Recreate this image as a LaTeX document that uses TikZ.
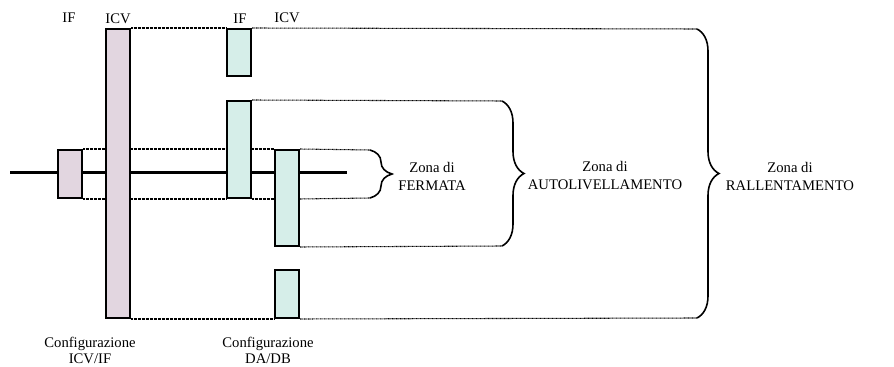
\documentclass[tikz,border=0pt]{standalone}
\usepackage{fontspec}
\setmainfont{Liberation Serif}
\usepackage{xcolor}
\usepackage{tikz}
\usetikzlibrary{positioning, decorations.pathreplacing}
\definecolor{cfgpink}{HTML}{E2D6E0}
\definecolor{cfgteal}{HTML}{D6EEE9}

\begin{document}
\begin{tikzpicture}[x=0.75pt,y=-0.75pt,font=\fontsize{11}{13.5}\selectfont,
  pinkbox/.style={draw=black,line width=1.5pt,fill=cfgpink,inner sep=0pt,minimum width=18pt,minimum height=#1},
  tealbox/.style={draw=black,line width=1.5pt,fill=cfgteal,inner sep=0pt,minimum width=18pt,minimum height=#1},
  zoneline/.style={dash pattern=on 0.6pt off 0.4pt,line width=0.8pt},
  zonebrace/.style={decorate,decoration={brace,amplitude=16.5pt},line width=1.2pt}]
  \useasboundingbox(0,0)rectangle(894,367);
  % binario e limiti delle zone
  \coordinate(trkW)at(10,173);\coordinate(trkE)at(347,173);
  \coordinate(fermTop)at(370,150);\coordinate(fermBot)at(370,198);
  \coordinate(autoTop)at(502,101);\coordinate(autoBot)at(502,246);
  \coordinate(rallTop)at(697,29);\coordinate(rallBot)at(697,318);
  \draw[line width=2.25pt](trkW)--(trkE);
  \path(70,174)node[pinkbox=36pt](ifA){};
  \path(118,173.5)node[pinkbox=216.75pt](icvA){};
  \path(239,52.5)node[tealbox=35.25pt](ifB1){};
  \path(239,149.5)node[tealbox=72.75pt](ifB2){};
  \path(287,198)node[tealbox=72pt](icvB1){};
  \path(287,294)node[tealbox=36pt](icvB2){};
  \draw[zoneline](icvA.north east)--(ifB1.north west);\draw[zoneline](ifB1.north east)--(rallTop);
  \draw[zoneline](ifB2.north east)--(autoTop);
  \draw[zoneline](ifA.north east)--(icvA.west|-ifA.north);\draw[zoneline](icvA.east|-ifA.north)--(ifB2.west|-ifA.north);
  \draw[zoneline](ifB2.east|-ifA.north)--(icvB1.north west);\draw[zoneline](icvB1.north east)--(fermTop);
  \draw[zoneline](ifA.south east)--(icvA.west|-ifA.south);\draw[zoneline](icvA.east|-ifA.south)--(ifB2.south west);
  \draw[zoneline](ifB2.south east)--(icvB1.west|-ifA.south);\draw[zoneline](icvB1.east|-ifA.south)--(fermBot);
  \draw[zoneline](icvB1.south east)--(autoBot);
  \draw[zoneline](icvA.south east)--(icvB2.south west);\draw[zoneline](icvB2.south east)--(rallBot);
  \draw[zonebrace](fermTop)--(fermBot);
  \draw[zonebrace](autoTop)--(autoBot);
  \draw[zonebrace](rallTop)--(rallBot);
  % etichette
  \node(lblIfA)at(69,18){IF};\node(lblIcvA)at(118,19){ICV};
  \node(lblIfB)at(240,19){IF};\node(lblIcvB)at(287,18){ICV};
  \node[align=center](lblFerm)at(432,176){Zona di\\FERMATA};
  \node[align=center](lblAuto)at(605,176){Zona di\\AUTOLIVELLAMENTO};
  \node[align=center](lblRall)at(790,176){Zona di\\RALLENTAMENTO};
  \node[align=center,inner sep=0pt,font=\fontsize{11}{12}\selectfont](lblCfgA)at(90,350){Configurazione\\ICV/IF};
  \node[align=center,inner sep=0pt,font=\fontsize{11}{12}\selectfont](lblCfgB)at(268,350){Configurazione\\DA/DB};
\end{tikzpicture}
\end{document}
